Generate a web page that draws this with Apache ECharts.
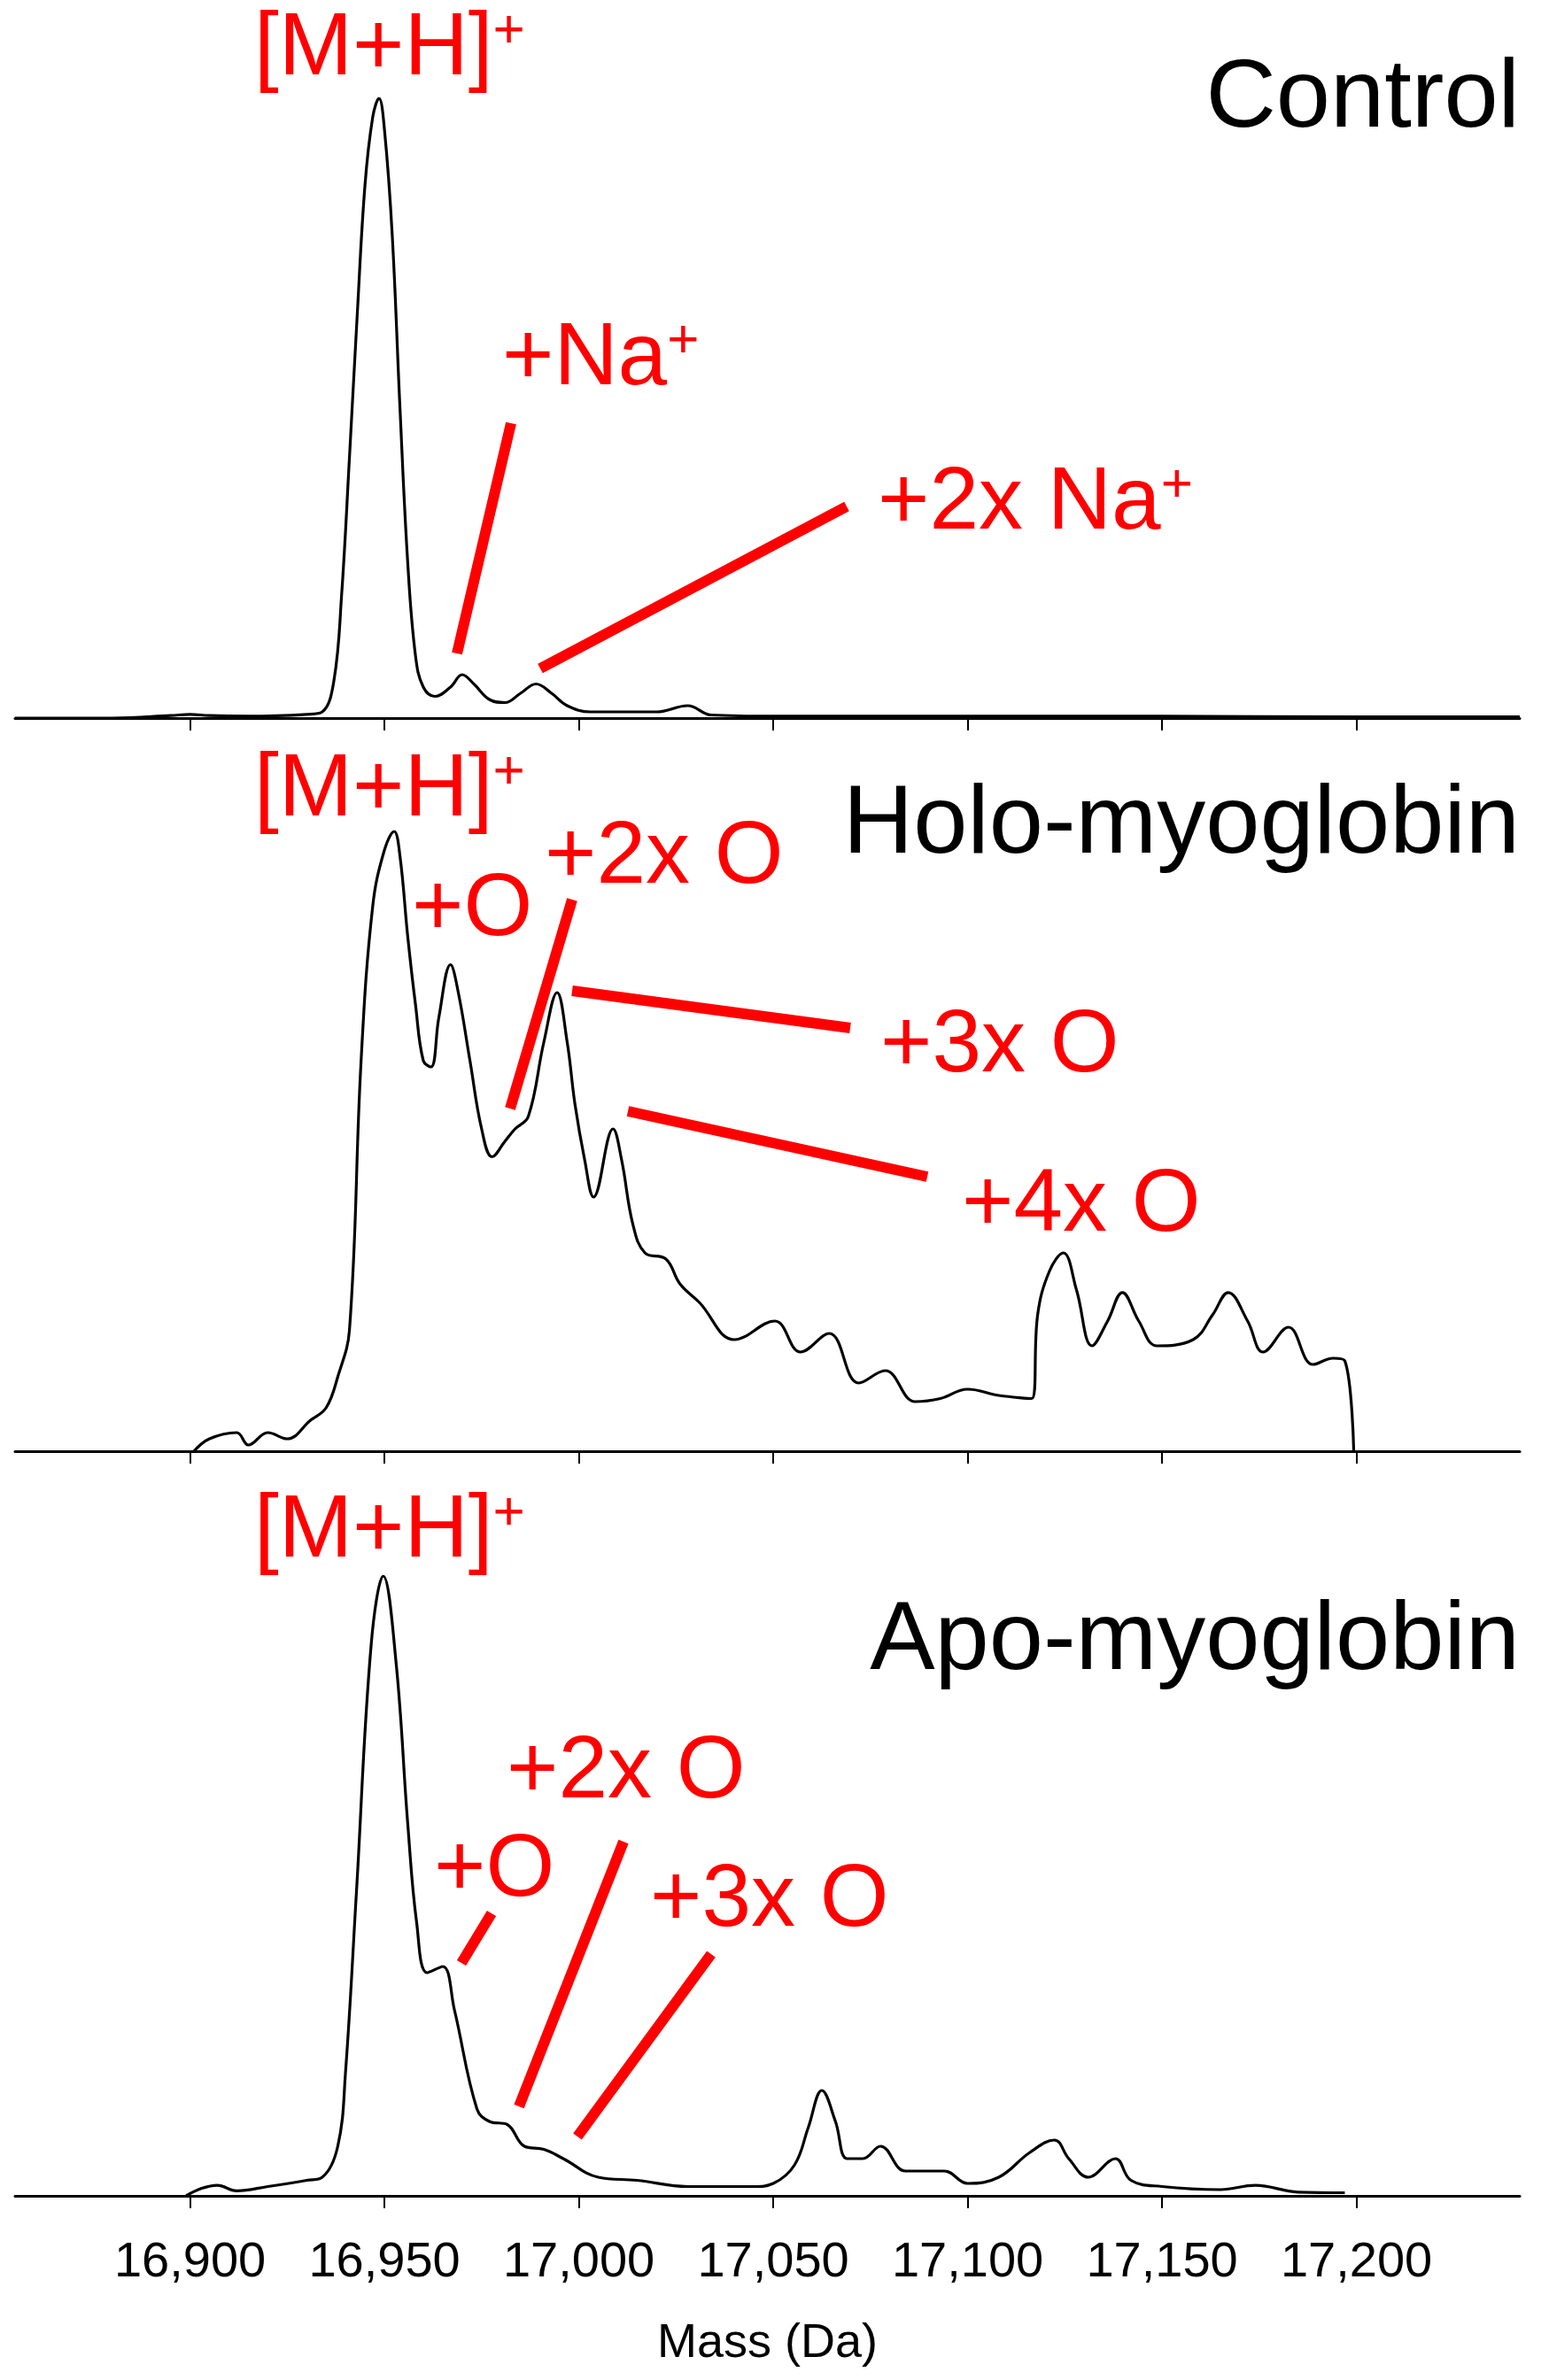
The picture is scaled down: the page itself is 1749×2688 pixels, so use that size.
<!DOCTYPE html>
<html>
<head>
<meta charset="utf-8">
<script src="https://cdn.jsdelivr.net/npm/echarts@6/dist/echarts.min.js"></script>
<style>html,body{margin:0;padding:0;background:#fff}#chart{width:1749px;height:2688px}</style>
</head>
<body>
<div id="chart"></div>
<script>
// mass (Da) and relative intensity (%)
var controlMass = [16855,16880,16895,16900,16905,16915,16930,16934,16937,16939,16941,16943,16945,16947,16948.6,16950,16952,16954,16956,16958,16960,16963,16967,16970,16973,16977,16981,16985,16989,16993,16997,17003,17010,17020,17028,17034,17050,17100,17150,17200,17242];
var controlInt  = [0,0,0.4,0.6,0.4,0.3,0.6,1,6,20,42,65,86,97,100,95,78,50,25,10,5,3.5,5,7,5.5,3,2.5,4,5.5,4,2,1,1,1,2,0.5,0.3,0.3,0.3,0.2,0.2];

var holoMass = [16901,16905,16912,16915,16920,16925,16931,16935,16938,16941,16944,16947,16950,16952.5,16954,16956,16958,16960,16962,16964,16967,16969,16972,16975,16977.7,16981,16983.6,16987,16991,16994.4,16997,16999,17001.5,17003.8,17008.8,17011,17013.9,17017,17022.4,17026,17031,17040,17050.4,17057,17064.4,17072,17078.8,17086.5,17093,17100,17108,17116.5,17118,17121,17124.6,17128,17132,17136,17139.8,17144,17148.7,17158,17163,17167,17172,17176,17182.5,17188.8,17194,17197,17199.3];
var holoInt  = [0,2,3,1,3,2,5,7,12,19.5,63,88,97,100,96,83,72,63,62,70,78.5,74,63,52,47.5,50,52,54,66,74,66,56,47,41,52,47,36.6,32,31,27,24,18,21,16,19,11,13,8,8.5,10,9,8.5,22,29,32,26,17,21,25.6,21,17,18,22,25.6,21,16,20,14,15,14.6,0];

var apoMass = [16899,16903,16907,16912,16920,16930,16934,16938,16940,16942.8,16946.6,16949.7,16953,16956,16958.3,16961,16965,16968,16973.8,16977,16981.6,16986,16991,16996,17005,17015,17028,17045,17050,17055.5,17059,17062.5,17066,17069,17073,17077.6,17084,17094,17100,17108,17116,17122.3,17126,17131,17138,17142,17150,17165,17174,17185,17197];
var apoInt  = [0,1.2,1.7,0.8,1.5,2.5,3,8,20,49,89,100,86,60,44,36,37,30,14,12,11.5,8,7.5,6,3,2.5,1.5,1.5,2,5,11,17,12,6,6,8,4,4,2,3,7,9,6,3,6,2.5,1.5,1,1.7,0.6,0.5];

var tickValues = [16900,16950,17000,17050,17100,17150,17200];

function pairs(m, v) { return m.map(function (x, i) { return [x, v[i]]; }); }

var FONT = 'Liberation Sans, Arial, sans-serif';
var tops = [111, 939, 1780];
var grids = tops.map(function (t) { return {left: 17, right: 33, top: t, height: 700}; });
var xAxes = tops.map(function (t, i) {
    return {
        type: 'value', gridIndex: i, min: 16855, max: 17242,
        splitLine: {show: false},
        axisLine: {lineStyle: {color: '#000', width: 3}},
        axisTick: {customValues: tickValues, length: 14, inside: false, lineStyle: {color: '#000', width: 2}},
        axisLabel: {show: i === 2, customValues: tickValues, fontSize: 56, color: '#000', fontFamily: FONT, margin: 48,
            formatter: function (v) { return v.toLocaleString('en-US'); }},
        name: i === 2 ? 'Mass (Da)' : '', nameLocation: 'middle', nameGap: 140,
        nameTextStyle: {fontSize: 54, color: '#000', fontFamily: FONT}
    };
});
var yAxes = tops.map(function (t, i) { return {type: 'value', gridIndex: i, min: 0, max: 100, show: false}; });
var series = [pairs(controlMass, controlInt), pairs(holoMass, holoInt), pairs(apoMass, apoInt)].map(function (d, i) {
    return {type: 'line', xAxisIndex: i, yAxisIndex: i, data: d, smooth: 0.4, symbol: 'none',
        lineStyle: {color: '#000', width: 3.2}};
});

var RED = '#ff0000';
var rich = {s: {fontSize: 62, fill: RED, fontFamily: FONT, padding: [0, 0, 40, 0]}};
function label(x, y, text, color, align, size) {
    return {type: 'text', x: x, y: y, style: {text: text, fill: color || RED, fontSize: size || 100, fontFamily: FONT,
        align: align || 'left', verticalAlign: 'top', rich: rich}};
}
function stroke(x1, y1, x2, y2) {
    return {type: 'line', shape: {x1: x1, y1: y1, x2: x2, y2: y2}, style: {stroke: RED, lineWidth: 12}};
}
var graphics = [
    label(287, 5, '[M+H]{s|+}'),
    label(1716, 58, 'Control', '#000', 'right', 110),
    label(567, 355, '+Na{s|+}'),
    stroke(577, 478, 516, 738),
    label(991, 518, '+2x Na{s|+}'),
    stroke(956, 572, 610, 755),

    label(287, 842, '[M+H]{s|+}'),
    label(1716, 878, 'Holo-myoglobin', '#000', 'right', 110),
    label(465, 978, '+O'),
    label(615, 919, '+2x O'),
    stroke(646, 1016, 576, 1252),
    label(994, 1132, '+3x O'),
    stroke(646, 1119, 960, 1161),
    label(1086, 1312, '+4x O'),
    stroke(709, 1255, 1047, 1329),

    label(287, 1679, '[M+H]{s|+}'),
    label(1716, 1800, 'Apo-myoglobin', '#000', 'right', 110),
    label(572, 1952, '+2x O'),
    label(490, 2063, '+O'),
    stroke(555, 2161, 521, 2217),
    stroke(704, 2080, 586, 2379),
    label(734, 2097, '+3x O'),
    stroke(803, 2207, 652, 2413)
];

var chart = echarts.init(document.getElementById('chart'));
chart.setOption({
    animation: false,
    backgroundColor: '#fff',
    grid: grids, xAxis: xAxes, yAxis: yAxes, series: series,
    graphic: graphics
});
</script>
</body>
</html>
